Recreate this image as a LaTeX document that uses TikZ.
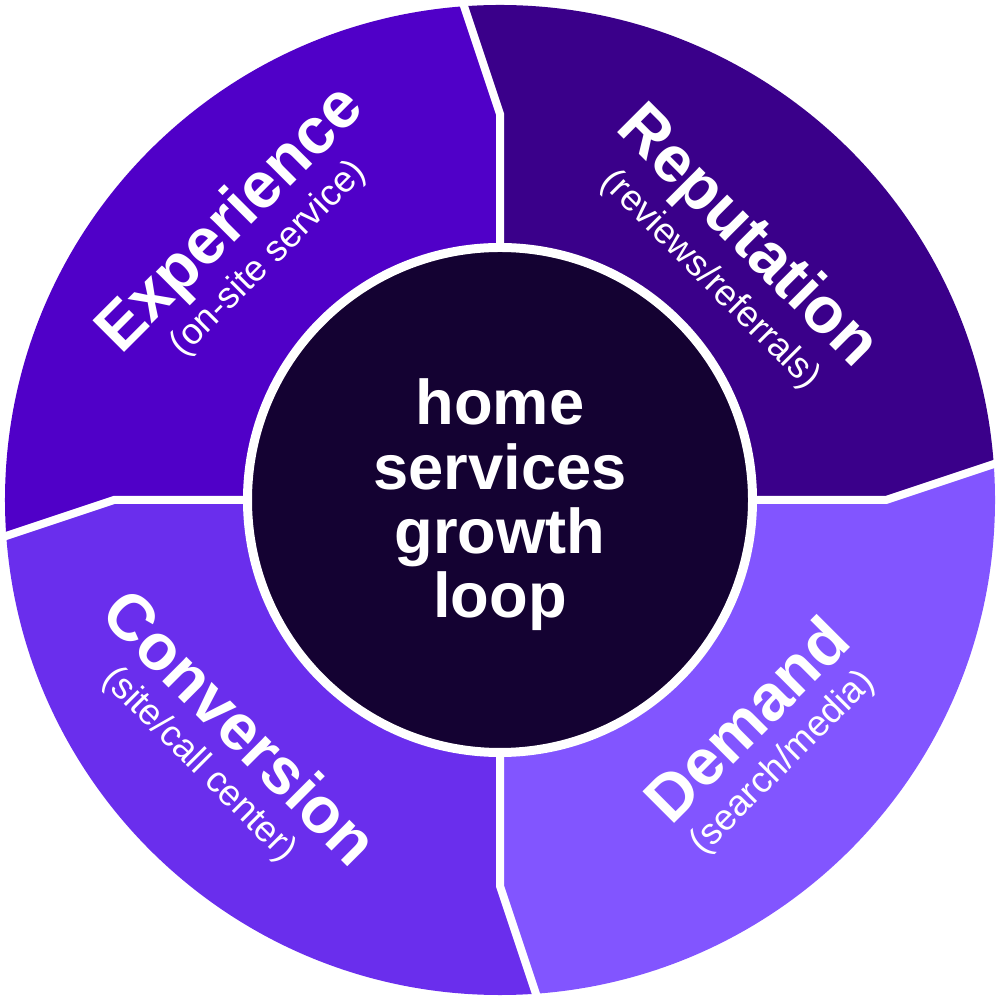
\documentclass[tikz,border=0pt]{standalone}
\usepackage{fontspec}
\setmainfont{Liberation Sans}
\usetikzlibrary{positioning}
\definecolor{hubdark}{HTML}{140232}
\definecolor{expviolet}{HTML}{5000C8}
\definecolor{repviolet}{HTML}{3A008A}
\definecolor{demviolet}{HTML}{8255FF}
\definecolor{convviolet}{HTML}{6A2EED}

\begin{document}
\begin{tikzpicture}[
        divider/.style={draw=white, line width=0.08cm, line join=miter},
        hub/.style={circle, fill=hubdark, draw=white, line width=0.09cm, minimum size=5.05cm, inner sep=0pt},
        hubtext/.style={text=white, align=center, inner sep=0pt, font=\bfseries\fontsize{18}{18.3}\selectfont},
        title/.style={text=white, inner sep=0pt, font=\bfseries\fontsize{18.5}{18.5}\selectfont},
        subtitle/.style={text=white, inner sep=0pt, font=\fontsize{10.4}{10.4}\selectfont}
    ]
        \useasboundingbox (-5,-5) rectangle (5,5);

        % Quadrants, clipped to the outer circle
        \begin{scope}
            \clip (0,0) circle (4.95);
            \fill[expviolet] (0,0) -- (0,3.86) -- (-0.447,5.2) -- (-5.2,5.2) -- (-5.2,-0.447) -- (-3.86,0) -- cycle;
            \fill[repviolet] (0,0) -- (0,3.86) -- (-0.447,5.2) -- (5.2,5.2) -- (5.2,0.447) -- (3.86,0) -- cycle;
            \fill[demviolet] (0,0) -- (3.86,0) -- (5.2,0.447) -- (5.2,-5.2) -- (0.447,-5.2) -- (0,-3.86) -- cycle;
            \fill[convviolet] (0,0) -- (0,-3.86) -- (0.447,-5.2) -- (-5.2,-5.2) -- (-5.2,-0.447) -- (-3.86,0) -- cycle;
        \end{scope}

        % White dividers between the quadrants
        \draw[divider] (0,2.5) -- (0,3.86) -- (-0.40,5.06);
        \draw[divider] (2.5,0) -- (3.86,0) -- (5.06,0.40);
        \draw[divider] (0,-2.5) -- (0,-3.86) -- (0.40,-5.06);
        \draw[divider] (-2.5,0) -- (-3.86,0) -- (-5.06,-0.40);

        % Centre
        \node[hub] (hub) at (0,0) {};
        \node[hubtext] (hublabel) at (0,-0.05) {home\\services\\growth\\loop};

        % Quadrant labels
        \node[title, rotate=45] (experience) at (-2.68,2.79) {Experience};
        \node[subtitle, rotate=45] (experiencesub) at (-2.31,2.41) {(on-site service)};
        \node[title, rotate=-45] (reputation) at (2.46,2.62) {Reputation};
        \node[subtitle, rotate=-45] (reputationsub) at (2.10,2.20) {(reviews/referrals)};
        \node[title, rotate=45] (demand) at (2.46,-2.19) {Demand};
        \node[subtitle, rotate=45] (demandsub) at (2.83,-2.63) {(search/media)};
        \node[title, rotate=-45] (conversion) at (-2.59,-2.27) {Conversion};
        \node[subtitle, rotate=-45] (conversionsub) at (-3.01,-2.65) {(site/call center)};
    \end{tikzpicture}
\end{document}
